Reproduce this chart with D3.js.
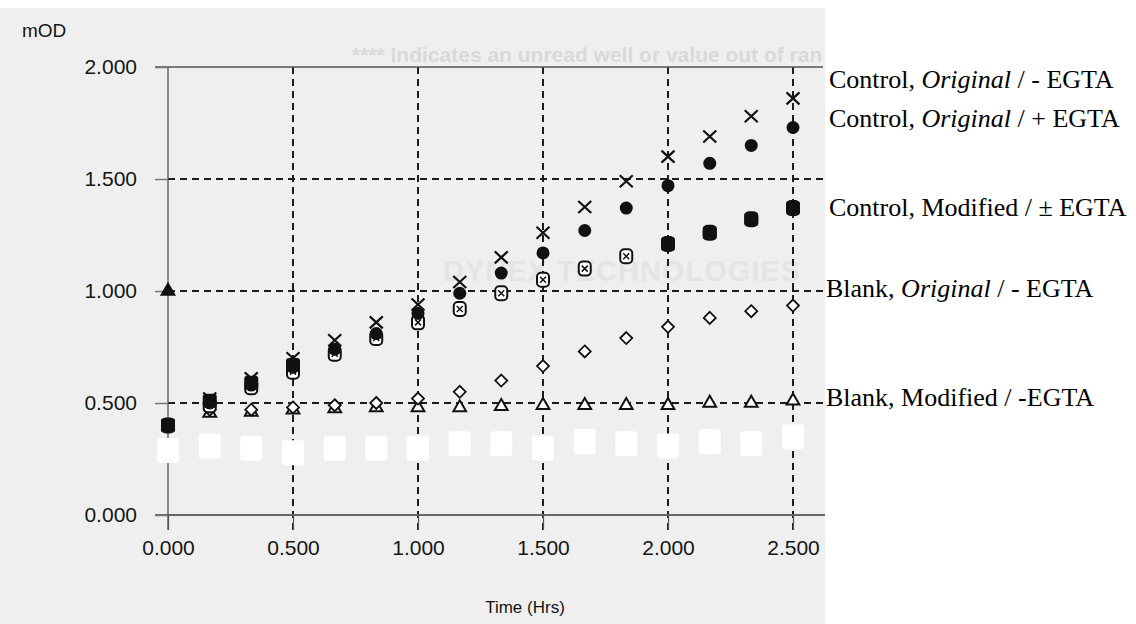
<!DOCTYPE html>
<html>
<head>
<meta charset="utf-8">
<script src="https://cdn.jsdelivr.net/npm/d3@7"></script>
<style>
  body { margin: 0; background: #fff; }
  svg { display: block; }
  .tick text { font-family: "Liberation Sans", Arial, sans-serif; font-size: 21px; fill: #151515; }
</style>
</head>
<body>
<div id="chart"></div>
<script>
// sampling times (hours)
var times = [0, 0.167, 0.333, 0.5, 0.667, 0.833, 1.0, 1.167, 1.333, 1.5, 1.667, 1.833, 2.0, 2.167, 2.333, 2.5];

// mOD readings
var ctrlOrigMinus = [0.40, 0.52, 0.61, 0.70, 0.78, 0.86, 0.94, 1.04, 1.15, 1.26, 1.375, 1.49, 1.60, 1.69, 1.78, 1.86];
var ctrlOrigPlus  = [0.40, 0.50, 0.58, 0.66, 0.74, 0.81, 0.90, 0.99, 1.08, 1.17, 1.27, 1.37, 1.47, 1.57, 1.65, 1.73];
var ctrlModOpen   = [0.40, 0.49, 0.57, 0.64, 0.72, 0.79, 0.86, 0.92, 0.99, 1.05, 1.10, 1.155, 1.21, 1.26, 1.32, 1.37];
var ctrlModFilled = [0.40, 0.51, 0.59, 0.67, null, null, null, null, null, null, null, null, 1.21, 1.26, 1.32, 1.37];
var blankOrig     = [0.40, 0.47, 0.47, 0.48, 0.49, 0.50, 0.52, 0.55, 0.60, 0.665, 0.73, 0.79, 0.84, 0.88, 0.91, 0.935];
var blankMod      = [1.00, 0.455, 0.46, 0.47, 0.475, 0.48, 0.48, 0.48, 0.485, 0.49, 0.49, 0.49, 0.49, 0.50, 0.50, 0.51];
// whited-out readings on the scan
var erased        = [0.29, 0.31, 0.30, 0.28, 0.30, 0.30, 0.30, 0.32, 0.32, 0.30, 0.33, 0.32, 0.31, 0.33, 0.32, 0.35];

var yTicks = [0, 0.5, 1.0, 1.5, 2.0];
var xTicks = [0, 0.5, 1.0, 1.5, 2.0, 2.5];

var legendItems = [
  {pre: "Control, ", it: "Original", post: " / - EGTA"},
  {pre: "Control, ", it: "Original", post: " / + EGTA"},
  {pre: "Control, Modified / \u00b1 EGTA", it: "", post: ""},
  {pre: "Blank, ", it: "Original", post: " / - EGTA"},
  {pre: "Blank, Modified / -EGTA", it: "", post: ""}
];

var W = 1136, H = 624;
var svg = d3.select("#chart").append("svg").attr("width", W).attr("height", H);

// scanned paper area
svg.append("rect").attr("x", 0).attr("y", 8).attr("width", 825).attr("height", H - 8).attr("fill", "#efefef");

var x = d3.scaleLinear().domain([0, 2.62]).range([168, 823]);
var y = d3.scaleLinear().domain([0, 2]).range([515, 67]);

// faint printed text showing through
svg.append("clipPath").attr("id", "clipScan").append("rect").attr("x", 0).attr("y", 0).attr("width", 823).attr("height", H);
svg.append("text").attr("x", 352).attr("y", 62)
  .attr("font-family", "Liberation Sans, Arial, sans-serif").attr("font-size", 21).attr("font-weight", "bold")
  .attr("fill", "#d9d9d9").attr("clip-path", "url(#clipScan)")
  .text("****   Indicates an unread well or value out of range");
svg.append("text").attr("x", 443).attr("y", 281)
  .attr("font-family", "Liberation Sans, Arial, sans-serif").attr("font-size", 29).attr("font-weight", "bold")
  .attr("letter-spacing", 1).attr("fill", "#e4e4e4").text("DYNEX TECHNOLOGIES");

// grid
var grid = svg.append("g");
grid.selectAll(".hg").data(yTicks.filter(function(d){ return d > 0 && d < 2; })).enter().append("line")
  .attr("x1", 168).attr("x2", 823).attr("y1", function(d){ return y(d); }).attr("y2", function(d){ return y(d); })
  .attr("stroke", "#1c1c1c").attr("stroke-width", 2).attr("stroke-dasharray", "7,5");
grid.selectAll(".vg").data(xTicks.filter(function(d){ return d > 0; })).enter().append("line")
  .attr("y1", y(2)).attr("y2", 530).attr("x1", function(d){ return x(d); }).attr("x2", function(d){ return x(d); })
  .attr("stroke", "#1c1c1c").attr("stroke-width", 2).attr("stroke-dasharray", "7,5");

// frame lines
svg.append("line").attr("x1", 155).attr("x2", 823).attr("y1", y(2)).attr("y2", y(2)).attr("stroke", "#555").attr("stroke-width", 1.5);
svg.append("line").attr("x1", 155).attr("x2", 825).attr("y1", y(0)).attr("y2", y(0)).attr("stroke", "#666").attr("stroke-width", 2);
svg.append("line").attr("x1", x(0)).attr("x2", x(0)).attr("y1", y(2)).attr("y2", 530).attr("stroke", "#444").attr("stroke-width", 1.2);

// axes
var yAxis = svg.append("g").attr("transform", "translate(168,0)")
  .call(d3.axisLeft(y).tickValues(yTicks).tickFormat(d3.format(".3f")).tickSize(13).tickPadding(18));
yAxis.select(".domain").remove();
yAxis.selectAll(".tick line").attr("stroke", "#777").attr("stroke-width", 1.5);

var xAxis = svg.append("g").attr("transform", "translate(0," + y(0) + ")")
  .call(d3.axisBottom(x).tickValues(xTicks).tickFormat(d3.format(".3f")).tickSize(15).tickPadding(10));
xAxis.select(".domain").remove();
xAxis.selectAll(".tick line").attr("stroke", "#555").attr("stroke-width", 1.2);

svg.append("text").attr("x", 22).attr("y", 37).attr("font-family", "Liberation Sans, Arial, sans-serif")
  .attr("font-size", 19).attr("fill", "#151515").text("mOD");
svg.append("text").attr("x", 525).attr("y", 613).attr("text-anchor", "middle")
  .attr("font-family", "Liberation Sans, Arial, sans-serif").attr("font-size", 17).attr("fill", "#151515").text("Time (Hrs)");

function pts(vals) {
  var out = [];
  vals.forEach(function(v, i){ if (v != null) out.push({t: times[i], v: v, i: i}); });
  return out;
}

// whited-out marks
svg.append("g").selectAll("rect").data(pts(erased)).enter().append("rect")
  .attr("x", function(d){ return x(d.t) - 11; }).attr("y", function(d){ return y(d.v) - 12; })
  .attr("width", 22).attr("height", 25).attr("rx", 3).attr("fill", "#fff");

var ink = "#111";

// Blank, Modified: triangles (first reading filled)
svg.append("g").selectAll("path").data(pts(blankMod)).enter().append("path")
  .attr("d", d3.symbol().type(d3.symbolTriangle).size(70))
  .attr("transform", function(d){ return "translate(" + x(d.t) + "," + y(d.v) + ")"; })
  .attr("fill", function(d){ return d.i === 0 ? ink : "#fff"; }).attr("stroke", ink).attr("stroke-width", 2);

// Blank, Original: diamonds
svg.append("g").selectAll("path").data(pts(blankOrig)).enter().append("path")
  .attr("d", "M0,-6L6,0L0,6L-6,0Z")
  .attr("transform", function(d){ return "translate(" + x(d.t) + "," + y(d.v) + ")"; })
  .attr("fill", "#fff").attr("stroke", ink).attr("stroke-width", 1.8);

// Control, Modified: open marks
var mo = svg.append("g").selectAll("g").data(pts(ctrlModOpen)).enter().append("g")
  .attr("transform", function(d){ return "translate(" + x(d.t) + "," + y(d.v) + ")"; });
mo.append("rect").attr("x", -6).attr("y", -7).attr("width", 12).attr("height", 14).attr("rx", 4)
  .attr("fill", "#fff").attr("stroke", ink).attr("stroke-width", 2);
mo.append("path").attr("d", "M-3,-3L3,3M3,-3L-3,3").attr("stroke", ink).attr("stroke-width", 1.5);

// Control, Modified: filled squares
svg.append("g").selectAll("rect").data(pts(ctrlModFilled)).enter().append("rect")
  .attr("x", function(d){ return x(d.t) - 7; }).attr("y", function(d){ return y(d.v) - 7; })
  .attr("width", 14).attr("height", 14).attr("rx", 3).attr("fill", ink);

// Control, Original + EGTA: filled circles
svg.append("g").selectAll("circle").data(pts(ctrlOrigPlus)).enter().append("circle")
  .attr("cx", function(d){ return x(d.t); }).attr("cy", function(d){ return y(d.v); })
  .attr("r", 6.5).attr("fill", ink);

// Control, Original - EGTA: crosses
svg.append("g").selectAll("path").data(pts(ctrlOrigMinus)).enter().append("path")
  .attr("d", "M-6.5,-6L6.5,6M6.5,-6L-6.5,6")
  .attr("transform", function(d){ return "translate(" + x(d.t) + "," + y(d.v) + ")"; })
  .attr("stroke", ink).attr("stroke-width", 2.2).attr("fill", "none");

// series labels on the right
var lg = svg.append("g").selectAll("text").data(legendItems).enter().append("text")
  .attr("x", function(d, i){ return i < 3 ? 829 : 826; })
  .attr("y", function(d, i){ return [88, 127, 216, 297, 406][i]; })
  .attr("font-family", "Liberation Serif, 'Times New Roman', serif").attr("font-size", 26).attr("fill", "#000");
lg.append("tspan").text(function(d){ return d.pre; });
lg.append("tspan").attr("font-style", "italic").text(function(d){ return d.it; });
lg.append("tspan").text(function(d){ return d.post; });
</script>
</body>
</html>
